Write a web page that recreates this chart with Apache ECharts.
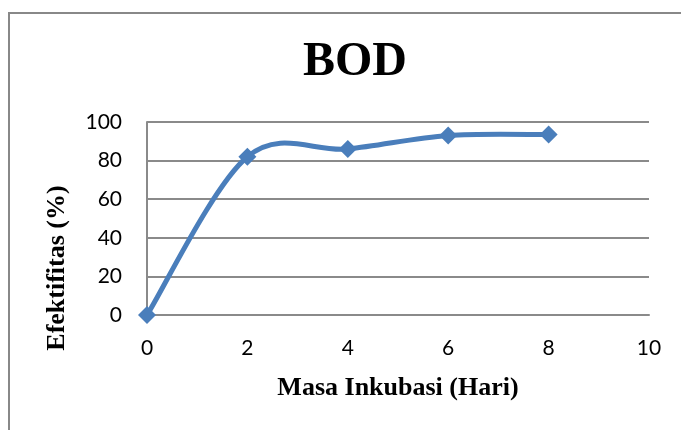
<!DOCTYPE html>
<html>
<head>
<meta charset="utf-8">
<script src="https://cdn.jsdelivr.net/npm/echarts@6/dist/echarts.min.js"></script>
<style>
  html, body { margin: 0; padding: 0; background: #fff; }
  #chart { width: 681px; height: 430px; }
</style>
</head>
<body>
<div id="chart"></div>
<script>
// days of incubation and BOD removal efficiency (%)
const days = [0, 2, 4, 6, 8]
const efficiency = [0, 82, 86, 93, 93.5]
const xTicks = { min: 0, max: 10, step: 2 }
const yTicks = { min: 0, max: 100, step: 20 }

const gridColor = '#8a8a8a'
const lineColor = '#4a7ebb'
const serif = '"Liberation Serif", "Times New Roman", serif'
const sans = 'Lato, "Liberation Sans", sans-serif'

const points = days.map((d, i) => [d, efficiency[i]])

// spreadsheet-style smoothed line (catmull-rom as cubic bezier)
function smoothPath(api) {
  const p = points.map(pt => api.coord(pt))
  let d = `M${p[0][0]},${p[0][1]}`
  for (let i = 0; i < p.length - 1; i++) {
    const p0 = p[i - 1] || p[i]
    const p1 = p[i]
    const p2 = p[i + 1]
    const p3 = p[i + 2] || p[i + 1]
    const c1 = [p1[0] + (p2[0] - p0[0]) / 6, p1[1] + (p2[1] - p0[1]) / 6]
    const c2 = [p2[0] - (p3[0] - p1[0]) / 6, p2[1] - (p3[1] - p1[1]) / 6]
    d += ` C${c1[0]},${c1[1]} ${c2[0]},${c2[1]} ${p2[0]},${p2[1]}`
  }
  return d
}

const chart = echarts.init(document.getElementById('chart'))

const option = {
  animation: false,
  backgroundColor: '#fff',
  title: {
    text: 'BOD',
    left: 298,
    top: 34,
    textStyle: { fontFamily: serif, fontWeight: 'bold', fontSize: 48, color: '#000' }
  },
  graphic: [
    {
      type: 'rect',
      shape: { x: 9, y: 13, width: 700, height: 450 },
      style: { fill: 'none', stroke: '#888', lineWidth: 2 },
      silent: true
    },
    {
      type: 'text',
      x: 57,
      y: 268,
      rotation: Math.PI / 2,
      style: {
        text: 'Efektifitas (%)',
        fontFamily: serif,
        fontWeight: 'bold',
        fontSize: 26,
        fill: '#000',
        align: 'center',
        verticalAlign: 'middle'
      }
    }
  ],
  grid: { left: 147, right: 32, top: 122, bottom: 115 },
  xAxis: {
    type: 'value',
    min: xTicks.min,
    max: xTicks.max,
    interval: xTicks.step,
    name: 'Masa Inkubasi (Hari)',
    nameLocation: 'middle',
    nameGap: 60,
    nameTextStyle: { fontFamily: serif, fontWeight: 'bold', fontSize: 26, color: '#000' },
    axisLine: { show: true, lineStyle: { color: gridColor, width: 2 } },
    axisTick: { show: false },
    splitLine: { show: false },
    axisLabel: { fontFamily: sans, fontSize: 21, color: '#000', margin: 23 }
  },
  yAxis: {
    type: 'value',
    min: yTicks.min,
    max: yTicks.max,
    interval: yTicks.step,
    axisLine: { show: true, lineStyle: { color: gridColor, width: 2 } },
    axisTick: { show: false },
    splitLine: { show: true, lineStyle: { color: gridColor, width: 2 } },
    axisLabel: { fontFamily: sans, fontSize: 21, color: '#000', margin: 25 }
  },
  series: [
    {
      type: 'custom',
      data: points,
      clip: false,
      renderItem: (params, api) => {
        if (params.dataIndex !== 0) return null
        return {
          type: 'path',
          shape: { pathData: smoothPath(api) },
          style: { fill: 'none', stroke: lineColor, lineWidth: 5, lineJoin: 'round', lineCap: 'round' }
        }
      }
    },
    {
      type: 'scatter',
      data: points,
      symbol: 'diamond',
      symbolSize: 18,
      itemStyle: { color: lineColor, opacity: 1 },
      z: 3
    }
  ]
}

chart.setOption(option)
</script>
</body>
</html>
